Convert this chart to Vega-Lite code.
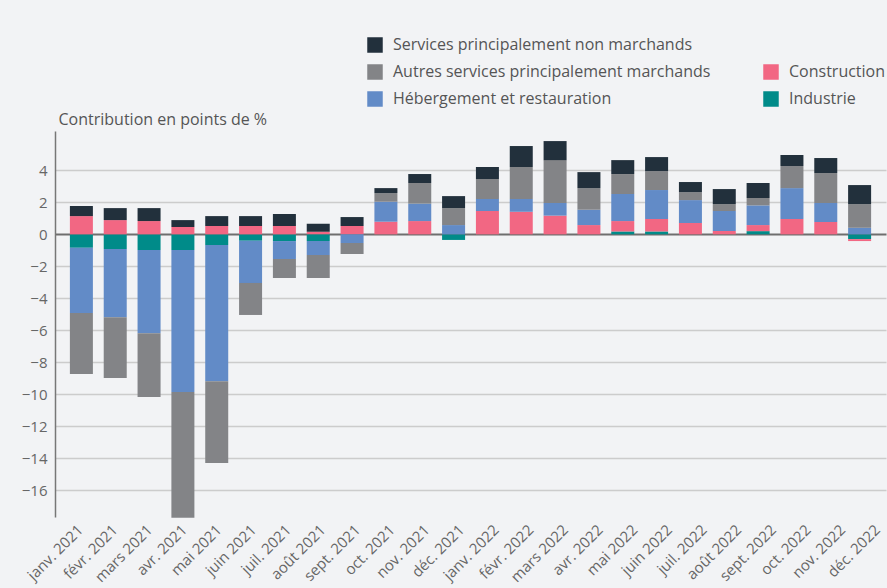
{
  "$schema": "https://vega.github.io/schema/vega-lite/v6.json",
  "width": 831,
  "height": 386,
  "autosize": "none",
  "padding": {"left": 55, "top": 131, "right": 1, "bottom": 71},
  "background": "#f2f3f5",
  "data": {
    "values": [
      {"mois": "janv. 2021", "Industrie": -0.84, "Construction": 1.14, "Hébergement et restauration": -4.08, "Autres services principalement marchands": -3.81, "Services principalement non marchands": 0.63},
      {"mois": "févr. 2021", "Industrie": -0.92, "Construction": 0.89, "Hébergement et restauration": -4.27, "Autres services principalement marchands": -3.79, "Services principalement non marchands": 0.75},
      {"mois": "mars 2021", "Industrie": -0.98, "Construction": 0.83, "Hébergement et restauration": -5.21, "Autres services principalement marchands": -3.98, "Services principalement non marchands": 0.81},
      {"mois": "avr. 2021", "Industrie": -0.98, "Construction": 0.46, "Hébergement et restauration": -8.88, "Autres services principalement marchands": -7.85, "Services principalement non marchands": 0.43},
      {"mois": "mai 2021", "Industrie": -0.67, "Construction": 0.52, "Hébergement et restauration": -8.52, "Autres services principalement marchands": -5.1, "Services principalement non marchands": 0.62},
      {"mois": "juin 2021", "Industrie": -0.4, "Construction": 0.52, "Hébergement et restauration": -2.64, "Autres services principalement marchands": -2.0, "Services principalement non marchands": 0.62},
      {"mois": "juil. 2021", "Industrie": -0.42, "Construction": 0.52, "Hébergement et restauration": -1.12, "Autres services principalement marchands": -1.19, "Services principalement non marchands": 0.75},
      {"mois": "août 2021", "Industrie": -0.42, "Construction": 0.16, "Hébergement et restauration": -0.87, "Autres services principalement marchands": -1.44, "Services principalement non marchands": 0.5},
      {"mois": "sept. 2021", "Industrie": 0, "Construction": 0.52, "Hébergement et restauration": -0.54, "Autres services principalement marchands": -0.69, "Services principalement non marchands": 0.56},
      {"mois": "oct. 2021", "Industrie": 0, "Construction": 0.79, "Hébergement et restauration": 1.25, "Autres services principalement marchands": 0.54, "Services principalement non marchands": 0.31},
      {"mois": "nov. 2021", "Industrie": 0, "Construction": 0.83, "Hébergement et restauration": 1.09, "Autres services principalement marchands": 1.29, "Services principalement non marchands": 0.56},
      {"mois": "déc. 2021", "Industrie": -0.35, "Construction": 0, "Hébergement et restauration": 0.58, "Autres services principalement marchands": 1.06, "Services principalement non marchands": 0.75},
      {"mois": "janv. 2022", "Industrie": 0, "Construction": 1.46, "Hébergement et restauration": 0.75, "Autres services principalement marchands": 1.25, "Services principalement non marchands": 0.75},
      {"mois": "févr. 2022", "Industrie": 0, "Construction": 1.41, "Hébergement et restauration": 0.8, "Autres services principalement marchands": 2.0, "Services principalement non marchands": 1.31},
      {"mois": "mars 2022", "Industrie": 0, "Construction": 1.17, "Hébergement et restauration": 0.79, "Autres services principalement marchands": 2.68, "Services principalement non marchands": 1.19},
      {"mois": "avr. 2022", "Industrie": 0, "Construction": 0.58, "Hébergement et restauration": 0.96, "Autres services principalement marchands": 1.35, "Services principalement non marchands": 1.0},
      {"mois": "mai 2022", "Industrie": 0.18, "Construction": 0.65, "Hébergement et restauration": 1.69, "Autres services principalement marchands": 1.25, "Services principalement non marchands": 0.87},
      {"mois": "juin 2022", "Industrie": 0.18, "Construction": 0.78, "Hébergement et restauration": 1.81, "Autres services principalement marchands": 1.18, "Services principalement non marchands": 0.88},
      {"mois": "juil. 2022", "Industrie": 0, "Construction": 0.71, "Hébergement et restauration": 1.43, "Autres services principalement marchands": 0.5, "Services principalement non marchands": 0.63},
      {"mois": "août 2022", "Industrie": 0, "Construction": 0.21, "Hébergement et restauration": 1.25, "Autres services principalement marchands": 0.43, "Services principalement non marchands": 0.94},
      {"mois": "sept. 2022", "Industrie": 0.2, "Construction": 0.38, "Hébergement et restauration": 1.23, "Autres services principalement marchands": 0.46, "Services principalement non marchands": 0.94},
      {"mois": "oct. 2022", "Industrie": 0, "Construction": 0.96, "Hébergement et restauration": 1.93, "Autres services principalement marchands": 1.38, "Services principalement non marchands": 0.69},
      {"mois": "nov. 2022", "Industrie": 0, "Construction": 0.77, "Hébergement et restauration": 1.19, "Autres services principalement marchands": 1.87, "Services principalement non marchands": 0.94},
      {"mois": "déc. 2022", "Industrie": -0.3, "Construction": -0.12, "Hébergement et restauration": 0.41, "Autres services principalement marchands": 1.48, "Services principalement non marchands": 1.19}
    ]
  },
  "transform": [
    {"fold": ["Industrie", "Construction", "Hébergement et restauration", "Autres services principalement marchands", "Services principalement non marchands"], "as": ["secteur", "valeur"]},
    {"calculate": "indexof(['Industrie','Construction','Hébergement et restauration','Autres services principalement marchands','Services principalement non marchands'], datum.secteur)", "as": "rang"}
  ],
  "layer": [
    {
      "mark": {"type": "bar"},
      "encoding": {
        "x": {
          "field": "mois",
          "type": "ordinal",
          "sort": null,
          "scale": {"paddingInner": 0.32, "paddingOuter": 0.44},
          "axis": null
        },
        "y": {
          "field": "valeur",
          "type": "quantitative",
          "stack": "zero",
          "scale": {"domain": [-17.67, 6.46], "nice": false, "zero": false},
          "axis": {
            "title": "Contribution en points de %",
            "titleAngle": 0,
            "titleAlign": "left",
            "titleBaseline": "alphabetic",
            "titleX": 3,
            "titleY": -7,
            "titleFont": "Open Sans",
            "titleFontSize": 16,
            "titleFontWeight": "normal",
            "titleColor": "#555555",
            "values": [-16, -14, -12, -10, -8, -6, -4, -2, 0, 2, 4],
            "ticks": false,
            "labelPadding": 8,
            "labelFont": "Open Sans",
            "labelFontSize": 15,
            "labelColor": "#666666",
            "domainColor": "#777777",
            "domainWidth": 1.5,
            "gridColor": {"condition": {"test": "datum.value === 0", "value": "#6e6e6e"}, "value": "#cccccc"},
            "gridWidth": {"condition": {"test": "datum.value === 0", "value": 2}, "value": 1.5}
          }
        },
        "color": {
          "field": "secteur",
          "type": "nominal",
          "scale": {
            "domain": ["Services principalement non marchands", " ", "Autres services principalement marchands", "Construction", "Hébergement et restauration", "Industrie"],
            "range": ["#22303c", "rgba(0,0,0,0)", "#838487", "#f26783", "#628bc7", "#008b89"]
          },
          "legend": {
            "title": null,
            "orient": "none",
            "legendX": 312,
            "legendY": -94,
            "columns": 2,
            "direction": "horizontal",
            "columnPadding": 52,
            "rowPadding": 11,
            "symbolType": "square",
            "symbolSize": 240,
            "symbolStrokeWidth": 0,
            "labelOffset": 10,
            "labelFont": "Open Sans",
            "labelFontSize": 16,
            "labelColor": "#555555",
            "labelLimit": 500
          }
        },
        "order": {"field": "rang", "type": "quantitative"}
      }
    },
    {
      "mark": {"type": "point", "opacity": 0},
      "encoding": {
        "x": {
          "field": "mois",
          "type": "ordinal",
          "sort": null,
          "scale": {"type": "point", "padding": 0, "range": [25, 822]},
          "axis": {
            "title": null,
            "labelAngle": -45,
            "labelAlign": "right",
            "labelBaseline": "middle",
            "labelPadding": 10,
            "ticks": false,
            "domain": false,
            "grid": false,
            "labelFont": "Open Sans",
            "labelFontSize": 15,
            "labelColor": "#666666"
          }
        }
      }
    }
  ],
  "resolve": {"scale": {"x": "independent"}},
  "config": {
    "view": {"stroke": null}
  }
}
